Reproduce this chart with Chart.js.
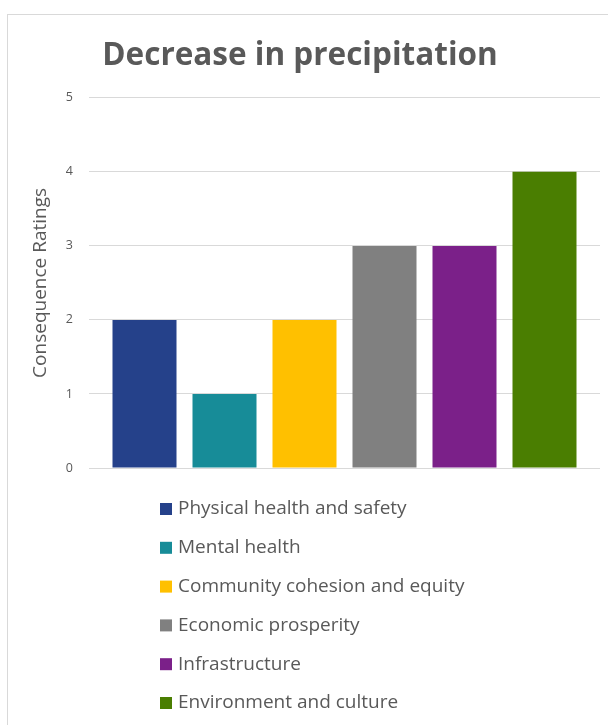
<!DOCTYPE html>
<html>
<head>
<meta charset="utf-8">
<script src="https://cdn.jsdelivr.net/npm/chart.js@4/dist/chart.umd.min.js"></script>
<style>
  html, body { margin: 0; padding: 0; background: #ffffff; }
  #frame { position: absolute; left: 7px; top: 14px; width: 700px; height: 800px;
           border-left: 1px solid #d9d9d9; border-top: 1px solid #d9d9d9; }
  #wrap { position: absolute; left: 0; top: 0; width: 608px; height: 725px; }
</style>
</head>
<body>
<div id="frame"></div>
<div id="wrap"><canvas id="c"></canvas></div>
<script>
const chartTitle = "Decrease in precipitation";
const yAxisTitle = "Consequence Ratings";
const categories = ["Physical health and safety", "Mental health", "Community cohesion and equity",
                    "Economic prosperity", "Infrastructure", "Environment and culture"];
const ratings = [2, 1, 2, 3, 3, 4];
const colors = ["#25418A", "#178C98", "#FFC000", "#808080", "#7B2089", "#4A7E01"];
const yTicks = [0, 1, 2, 3, 4, 5];

const FONT = "'Open Sans', sans-serif";
const TEXT = "#595959";

const verticalLegend = {
  id: 'verticalLegend',
  afterDraw(chart) {
    const ctx = chart.ctx;
    ctx.save();
    ctx.font = "19px " + FONT;
    ctx.textBaseline = "middle";
    ctx.textAlign = "left";
    chart.data.datasets.forEach((ds, i) => {
      const y = 509 + i * 38.8;
      ctx.fillStyle = ds.backgroundColor;
      ctx.fillRect(160, y - 6, 12, 12);
      ctx.fillStyle = TEXT;
      ctx.fillText(ds.label, 178, y);
    });
    ctx.restore();
  }
};

new Chart(document.getElementById('c'), {
  type: 'bar',
  data: {
    labels: [""],
    datasets: categories.map((name, i) => ({
      label: name,
      data: [ratings[i]],
      backgroundColor: colors[i],
      borderWidth: 0,
      categoryPercentage: 480 / 511,
      barPercentage: 0.8
    }))
  },
  options: {
    responsive: true,
    maintainAspectRatio: false,
    animation: false,
    layout: { padding: { left: 0, right: 8, top: 0, bottom: 257 } },
    plugins: {
      legend: { display: false },
      tooltip: { enabled: false },
      title: {
        display: true,
        text: chartTitle,
        color: TEXT,
        font: { family: FONT, size: 31.5, weight: 'bold' },
        padding: { top: 37, bottom: 23 }
      }
    },
    scales: {
      x: { display: false },
      y: {
        min: 0, max: 5,
        afterFit(scale) { scale.width = 89; },
        afterBuildTicks(scale) { scale.ticks = yTicks.map(v => ({ value: v })); },
        border: { display: false },
        grid: { color: "#d9d9d9", drawTicks: false, lineWidth: 1 },
        ticks: { color: TEXT, font: { family: FONT, size: 12.5 }, padding: 16 },
        title: {
          display: true, text: yAxisTitle, color: TEXT,
          font: { family: FONT, size: 19 }, padding: { top: 29, bottom: 0 }
        }
      }
    }
  },
  plugins: [verticalLegend]
});
</script>
</body>
</html>
